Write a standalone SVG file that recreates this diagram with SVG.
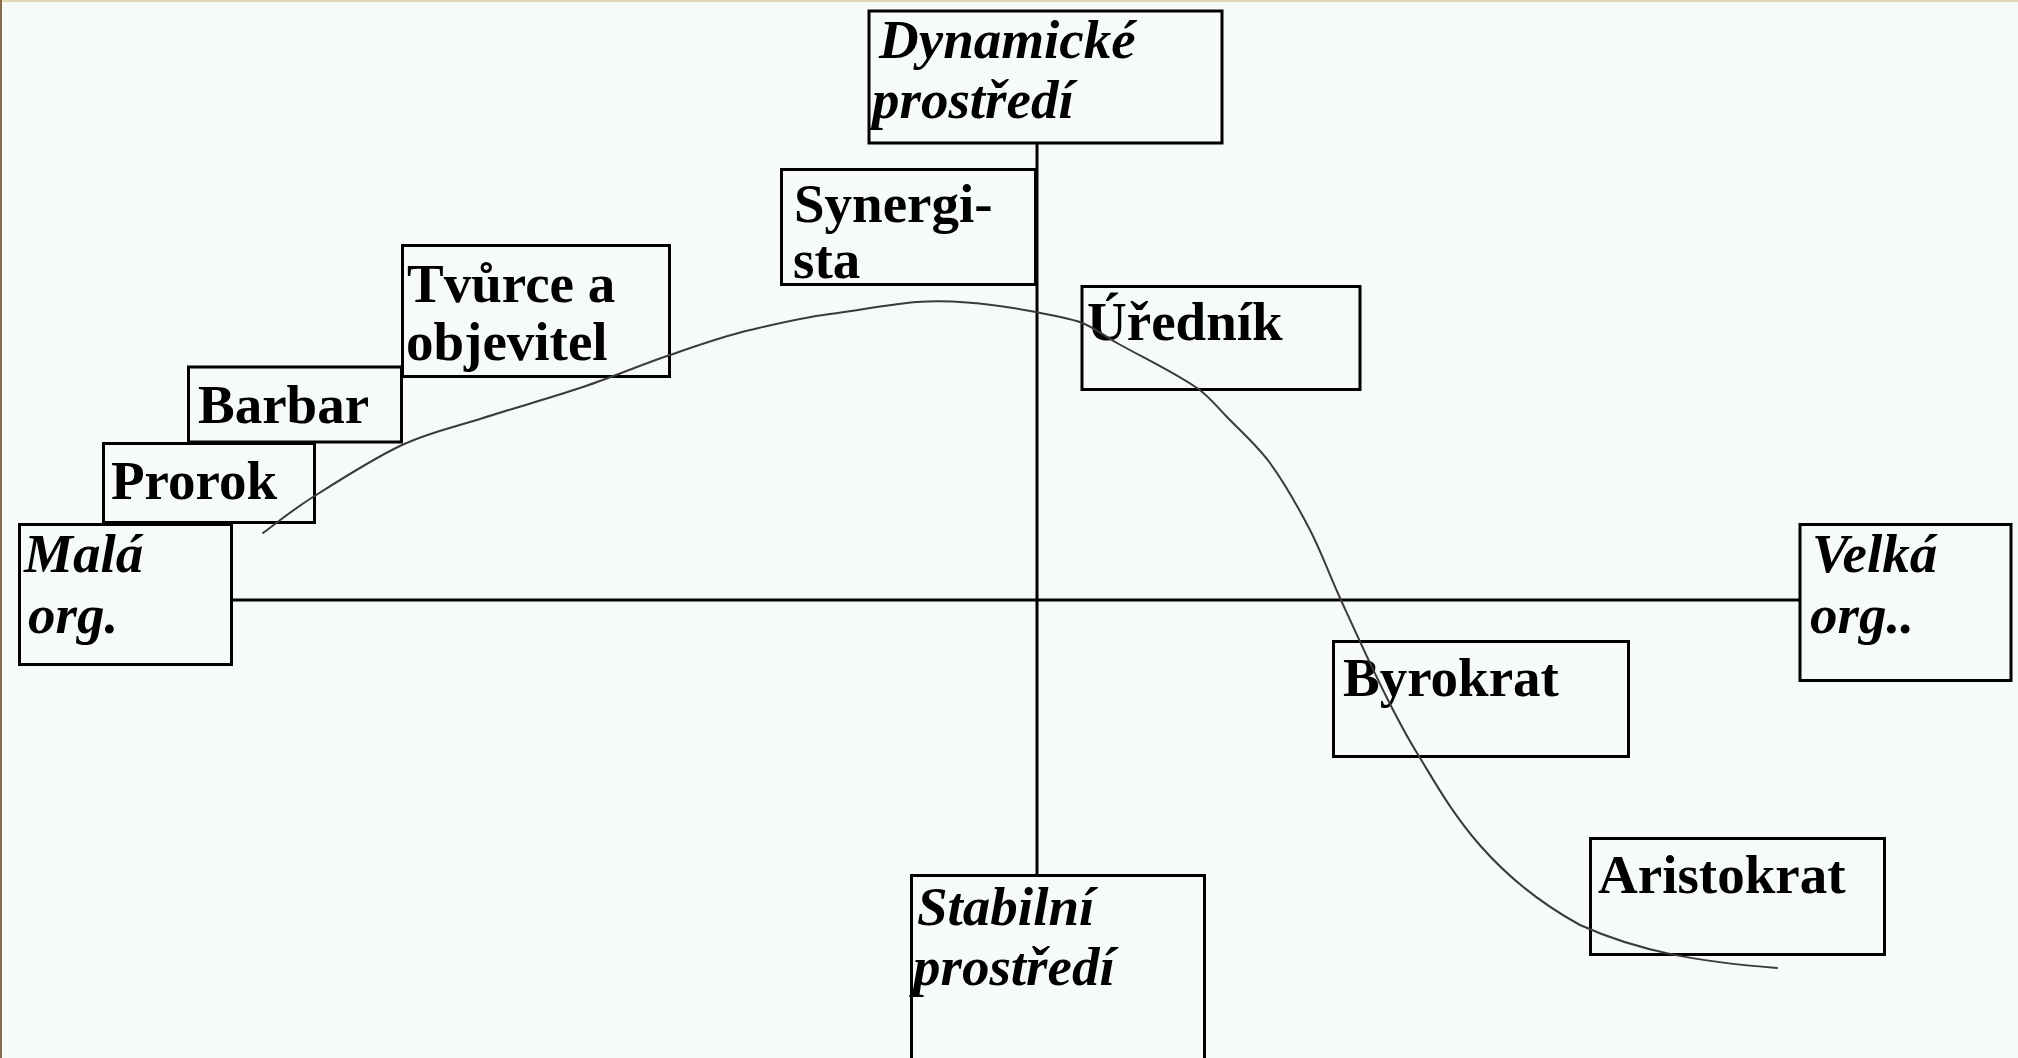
<svg xmlns="http://www.w3.org/2000/svg" width="2018" height="1058" viewBox="0 0 2018 1058">
<style>
.box{fill:none;stroke:#000;stroke-width:3}
.ax{stroke:#000;stroke-width:3;fill:none}
.t{font-family:"Liberation Serif","Times New Roman",serif;font-weight:bold;font-size:55px;fill:#000}
.i{font-style:italic}
.curve{fill:none;stroke:#3a3a3a;stroke-width:2;stroke-linecap:round;stroke-linejoin:round}
</style>
<rect x="0" y="0" width="2018" height="1058" fill="#f6fbf8"/>
<rect x="0" y="0" width="2018" height="2" fill="#e2d9b4"/>
<rect x="0" y="0" width="2" height="1058" fill="#8a6a4a"/>
<g id="connectors">
<line class="ax" x1="1037" y1="143" x2="1037" y2="875"/>
<line class="ax" x1="232" y1="600" x2="1800" y2="600"/>
</g>
<g id="dynamicke"><rect class="box" x="869" y="11" width="353" height="132"/><text class="t i" x="879" y="58">Dynamické</text><text class="t i" x="872" y="118">prostředí</text></g>
<g id="synergista"><rect class="box" x="781.5" y="169.5" width="254" height="115"/><text class="t" x="794" y="222">Synergi-</text><text class="t" x="793" y="278">sta</text></g>
<g id="urednik"><rect class="box" x="1082" y="286.5" width="278" height="103"/><text class="t" x="1087" y="340">Úředník</text></g>
<g id="tvurce"><rect class="box" x="402.5" y="245.5" width="267" height="131"/><text class="t" x="407" y="302">Tvůrce a</text><text class="t" x="406" y="360">objevitel</text></g>
<g id="barbar"><rect class="box" x="188.5" y="367" width="213" height="75"/><text class="t" x="198" y="423">Barbar</text></g>
<g id="prorok"><rect class="box" x="103.5" y="443.5" width="211" height="79"/><text class="t" x="111" y="499">Prorok</text></g>
<g id="mala"><rect class="box" x="19.5" y="524.5" width="212" height="140"/><text class="t i" x="24" y="572">Malá</text><text class="t i" x="28" y="633">org.</text></g>
<g id="velka"><rect class="box" x="1800" y="524.5" width="211" height="156"/><text class="t i" x="1812" y="572">Velká</text><text class="t i" x="1810" y="633">org..</text></g>
<g id="byrokrat"><rect class="box" x="1333.5" y="641.5" width="295" height="115"/><text class="t" x="1343" y="696">Byrokrat</text></g>
<g id="aristokrat"><rect class="box" x="1590.5" y="838.5" width="294" height="116"/><text class="t" x="1598" y="893">Aristokrat</text></g>
<g id="stabilni"><rect class="box" x="911.5" y="875.5" width="293" height="200"/><text class="t i" x="917" y="925">Stabilní</text><text class="t i" x="913" y="985">prostředí</text></g>
<g id="curve">
<path class="curve" d="M263,533 C271.3,527 289.8,511.7 313,497 C336.2,482.3 373.7,458.2 402,445 C430.3,431.8 452.8,427.7 483,418 C513.2,408.3 552.3,397.3 583,387 C613.7,376.7 639.2,365.5 667,356 C694.8,346.5 722,336.5 750,330 C778,323.5 800,318 830,314 C860,310 895,303.5 917,302 C939,300.5 948,301 967,302.5 C986,304 1014.2,308 1033,311.5 C1051.8,315 1066,317.5 1080,322 C1093.3,326.9 1104.6,336 1117,343 C1143.7,358 1171.6,370.9 1197,388 C1208.5,395.8 1217.3,407 1227,417 C1241.6,432 1257.6,446.1 1270,463 C1285.4,484 1298,506.9 1310,530 C1321.4,552 1327.8,571.3 1340,598 C1352.2,624.7 1367.9,659.6 1383,690 C1393.6,711.4 1404.5,732.7 1417,753 C1445,798 1480,870 1580,925 C1640,952 1700,962 1777,968"/>
</g>
</svg>
